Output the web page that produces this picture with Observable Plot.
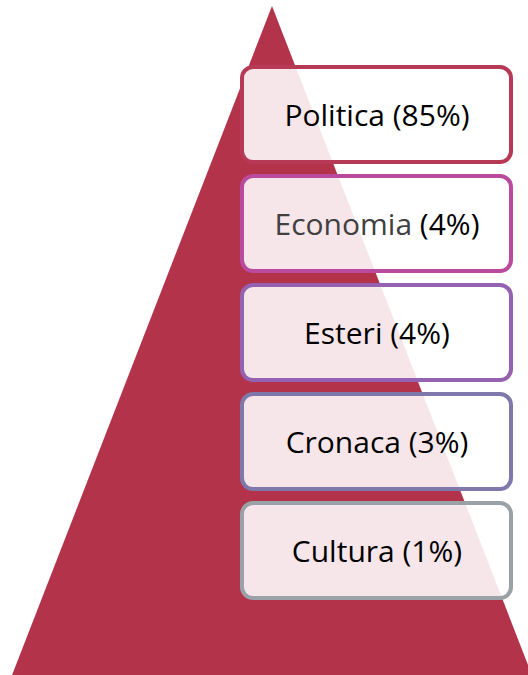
<!DOCTYPE html>
<html>
<head>
<meta charset="utf-8">
<script src="https://cdn.jsdelivr.net/npm/d3@7"></script>
<script src="https://cdn.jsdelivr.net/npm/@observablehq/plot@0.6"></script>
<style>
  html, body { margin: 0; padding: 0; background: #fff; }
  svg { display: block; }
</style>
</head>
<body>
<div id="chart"></div>
<script>
// Data
const categories = ["Politica", "Economia", "Esteri", "Cronaca", "Cultura"];
const shares = [85, 4, 4, 3, 1];
const borderColors = ["#b63a55", "#b94a9e", "#9462b0", "#7f79ab", "#9aa2a8"];
const nameColors = ["#000000", "#404040", "#000000", "#000000", "#000000"];

const rows = categories.map((c, i) => ({
  cat: c, share: shares[i], i, border: borderColors[i], nameColor: nameColors[i],
  label: `${c} (${shares[i]}%)`
}));

// Pyramid outline (apex row and base row, in row units)
const pyramid = [
  {y: -0.56, x1: 272, x2: 272},
  {y: 5.58, x1: 12, x2: 532}
];

const boxH = 0.872;

const plot = Plot.plot({
  width: 528,
  height: 675,
  margin: 0,
  x: {domain: [0, 528], range: [0, 528], axis: null},
  y: {domain: [-0.6147, 5.578], range: [0, 675], axis: null},
  style: {fontFamily: "'Open Sans', sans-serif", background: "#fff"},
  marks: [
    Plot.areaX(pyramid, {y: "y", x1: "x1", x2: "x2", fill: "#b3334b"}),
    Plot.rect(rows, {
      x1: 242, x2: 511,
      y1: d => d.i, y2: d => d.i + boxH,
      fill: "#ffffff", fillOpacity: 0.88,
      stroke: d => d.border, strokeWidth: 4, rx: 11, ry: 11
    }),
    Plot.text(rows, {
      x: 376.5, y: d => d.i + boxH / 2 + 0.01,
      text: d => d.label,
      fontSize: 30, fill: "#000", textAnchor: "middle", lineAnchor: "middle"
    })
  ]
});

// Color the category name separately (e.g. Economia in gray)
d3.select(plot).selectAll("g[aria-label='text'] text").each(function(_, k) {
  const r = rows[k];
  const t = d3.select(this);
  t.text(null);
  t.append("tspan").attr("fill", r.nameColor).text(r.cat + " ");
  t.append("tspan").attr("fill", "#000").text(`(${r.share}%)`);
});

document.getElementById("chart").appendChild(plot);
</script>
</body>
</html>
